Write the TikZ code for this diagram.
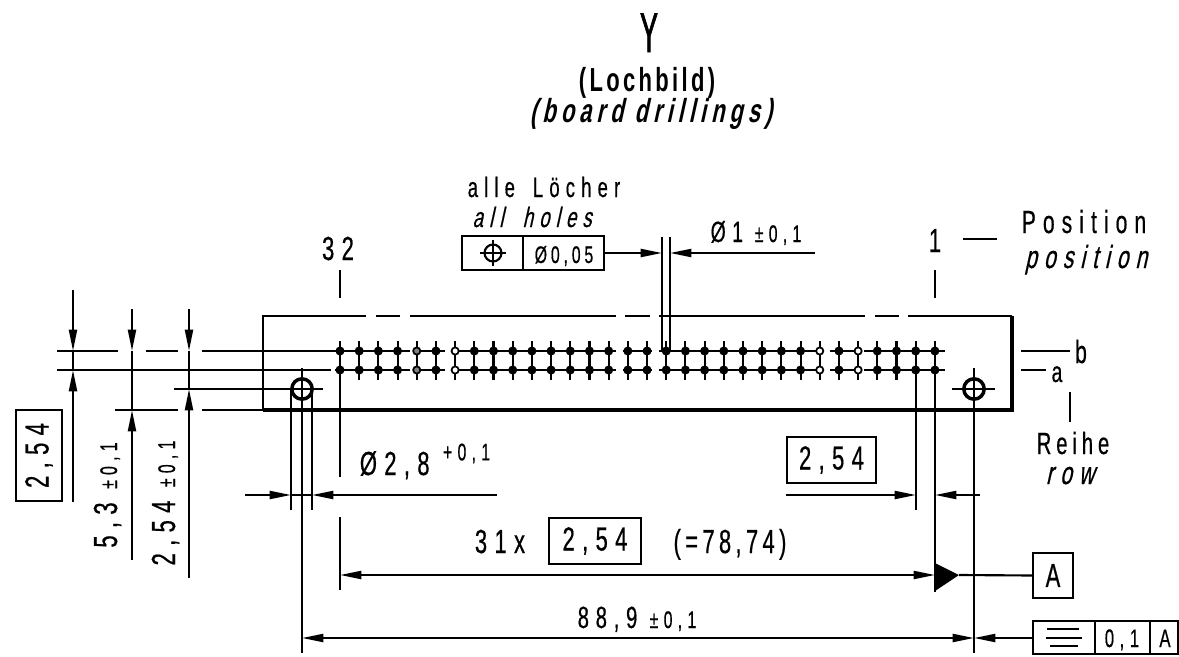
\documentclass[tikz,border=0pt]{standalone}
\usepackage{fontspec}
\usetikzlibrary{arrows.meta}
\newfontfamily\isofont[FakeStretch=0.66,LetterSpace=22,FakeBold=0.5]{Liberation Sans}
\newfontfamily\isoslant[FakeStretch=0.66,LetterSpace=22,FakeSlant=0.22,FakeBold=0.5]{Liberation Sans}
\newfontfamily\isonarrow[FakeStretch=0.48,FakeBold=1.2]{Liberation Sans}
\newfontfamily\isobold[FakeStretch=0.66,LetterSpace=10]{Liberation Sans Bold}
\newfontfamily\isoboldit[FakeStretch=0.66,LetterSpace=15,FakeSlant=0.22]{Liberation Sans Bold}
\newcommand{\tolsize}[1]{{\fontsize{18}{18}\selectfont #1}}
\tikzset{
  hair/.style={line width=1.6pt},
  heavy/.style={line width=2.4pt},
  dimline/.style={line width=1.6pt,-{Triangle[length=16pt,width=6pt]}},
  dimboth/.style={line width=1.6pt,{Triangle[length=16pt,width=6pt]}-{Triangle[length=16pt,width=6pt]}},
  lab/.style={inner sep=0pt,anchor=base,font=\isofont\fontsize{25}{25}\selectfont},
  labtwo/.style={inner sep=0pt,anchor=base,font=\isofont\fontsize{24}{24}\selectfont},
  labit/.style={inner sep=0pt,anchor=base,font=\isoslant\fontsize{24}{24}\selectfont},
  framebox/.style={draw,line width=1.6pt,inner sep=0pt,font=\isofont\fontsize{25}{25}\selectfont},
}
\begin{document}
\begin{tikzpicture}[x=0.75pt,y=0.75pt,yscale=-1]
\useasboundingbox (0,0) rectangle (1179,657);

%Shape: board outline
\draw [hair] (366,316) -- (263,316) -- (263,410);
\draw [hair] (376,316) -- (400,316) (410,316) -- (616,316) (625,316) -- (650,316) (659,316) -- (865,316) (875,316) -- (899,316);
\draw [hair] (908,316) -- (1012,316);
\draw [heavy] (1012,316) -- (1012,410) -- (263,410);

%Straight Lines: rows of the hole pattern
\draw [hair] (57,351) -- (118,351) (146,351) -- (178,351) (202,351) -- (410,351) (418,351) -- (445,351) (452,351) -- (616,351) (623,351) -- (652,351) (659,351) -- (823,351) (830,351) -- (861,351) (864,351) -- (945,351);
\draw [hair] (57,370) -- (331,370) (335,370) -- (410,370) (418,370) -- (445,370) (452,370) -- (616,370) (623,370) -- (652,370) (659,370) -- (823,370) (830,370) -- (861,370) (864,370) -- (945,370);

%Shape: holes
\foreach \i in {0,...,31} {
  \draw [hair] ({340+19.19*\i},341) -- ({340+19.19*\i},380);
  \ifnum\i=4 \def\holefill{gray}\else\ifnum\i=6 \def\holefill{white}\else\ifnum\i=25 \def\holefill{white}\else\ifnum\i=27 \def\holefill{white}\else\def\holefill{black}\fi\fi\fi\fi
  \foreach \r in {351,370} {
    \draw [line width=1.3pt,fill=\holefill] ({340+19.19*\i},\r) circle [radius=3.6];
  }
}

%Shape: mounting holes
\draw [line width=2.6pt] (302,389) circle [radius=10.2];
\draw [line width=2.6pt] (974,389) circle [radius=10.2];
\draw [hair] (174,389) -- (323,389);
\draw [hair] (952,389) -- (995,389);
\draw [hair] (302,368) -- (302,653);
\draw [hair] (974,368) -- (974,653);
\draw [hair] (291,389) -- (291,510);
\draw [hair] (312,389) -- (312,510);

%Straight Lines: left dimensions
\draw [hair] (115,410) -- (178,410) (202,410) -- (263,410);
\draw [dimline] (73,290) -- (73,351);
\draw [dimline] (73,502) -- (73,370);
\draw [hair] (73,351) -- (73,370);
\draw [dimline] (132,309) -- (132,351);
\draw [dimline] (132,560) -- (132,410);
\draw [hair] (132,351) -- (132,410);
\draw [dimline] (189,309) -- (189,351);
\draw [dimline] (189,578) -- (189,389);
\draw [hair] (189,351) -- (189,389);

%Straight Lines: ticks and extension lines
\draw [hair] (340,270) -- (340,298);
\draw [hair] (935,270) -- (935,298);
\draw [hair] (340,370) -- (340,477);
\draw [hair] (340,517) -- (340,590);
\draw [hair] (935,351) -- (935,592);
\draw [hair] (916,351) -- (916,510);
\draw [hair] (662,237) -- (662,351);
\draw [hair] (670,237) -- (670,351);
\draw [hair] (963,239) -- (997,239);
\draw [hair] (1021,351) -- (1070,351);
\draw [hair] (1021,370) -- (1046,370);
\draw [hair] (1070,392) -- (1070,422);

%Straight Lines: lower dimensions
\draw [dimline] (245,495) -- (291,495);
\draw [dimline] (497,495) -- (312,495);
\draw [hair] (291,495) -- (312,495);
\draw [dimline] (786,495) -- (916,495);
\draw [dimline] (980,495) -- (935,495);
\draw [dimboth] (340,575) -- (935,575);
\draw [dimline] (935,638) -- (302,638);
\draw [dimline] (900,638) -- (974,638);

%Shape: datum triangle
\fill (935,563) -- (959,575) -- (935,591) -- cycle;

% Frames
\node [framebox,minimum width=30pt,minimum height=34pt] (datumA) at (1053,575.5) {A};
\draw [hair] (462,236) rectangle (604,270);
\draw [hair] (523,236) -- (523,270);
\draw [hair] (493,253) circle [radius=8.5];
\draw [hair] (480,253) -- (506,253) (493,240) -- (493,266);
\draw [hair] (1033,621) rectangle (1178,654);
\draw [hair] (1095,621) -- (1095,654);
\draw [hair] (1150,621) -- (1150,654);
\draw [hair] (1047,629) -- (1079,629) (1046,638) -- (1082,638) (1050,646) -- (1078,646);
\draw [hair] (959,575) -- (datumA.west);
\draw [dimline] (604,253) -- (662,253);
\draw [dimline] (815,253) -- (670,253);
\draw [dimline] (1033,638) -- (974,638);

% Text Node
\node [inner sep=0pt,anchor=base,font=\isonarrow\fontsize{42}{42}\selectfont] (titleY) at (649,52) {Y};
\node [inner sep=0pt,anchor=base,font=\isobold\fontsize{25}{25}\selectfont] (titleDe) at (647,91) {(Lochbild)};
\node [inner sep=0pt,anchor=base,font=\isoboldit\fontsize{25}{25}\selectfont] (titleEn) at (651,122) {(board drillings)};
\node [labtwo,font=\isofont\fontsize{21}{21}\selectfont] (allDe) at (544,197) {alle\hspace{5pt} Löcher};
\node [labit,font=\isoslant\fontsize{21}{21}\selectfont] (allEn) at (532,227) {all\hspace{6pt} holes};
\node [lab,font=\isofont\fontsize{18}{18}\selectfont\addfontfeature{LetterSpace=16}] (tolVal) at (564,263) {Ø0,05};
\node [lab,font=\isofont\fontsize{22}{22}\selectfont] (dHole) at (756,242) {Ø1 \tolsize{±0,1}};
\node [lab] (pos32) at (338,260) {32};
\node [lab] (pos1) at (935,252) {1};
\node [labtwo] (posDe) at (1084,233) {Position};
\node [labit] (posEn) at (1086,268) {position};
\node [labtwo] (rowB) at (1081,363) {b};
\node [labtwo,font=\isofont\fontsize{22}{22}\selectfont] (rowA) at (1057,382) {a};
\node [labtwo,font=\isofont\fontsize{23}{23}\selectfont\addfontfeature{LetterSpace=16}] (rowDe) at (1073,454) {Reihe};
\node [labit] (rowEn) at (1070,484) {row};
\node [lab] (dMount) at (425,475) {Ø2,8 \raisebox{11pt}{\tolsize{+0,1}}};
\node [framebox,minimum width=66.5pt,minimum height=35pt] (boxRight) at (831.5,460) {2,54};
\node [lab] (pitch) at (500,553) {31x};
\node [framebox,minimum width=69pt,minimum height=34.5pt] (boxPitch) at (595,541) {2,54};
\node [lab,font=\isofont\fontsize{25}{25}\selectfont\addfontfeature{LetterSpace=13}] (total) at (730,553) {(=78,74)};
\node [lab,font=\isofont\fontsize{23}{23}\selectfont] (span) at (637,628) {88,9 \tolsize{±0,1}};
\node [framebox,minimum width=34.5pt,minimum height=68pt] (boxLeft) at (39,455.5) {\rotatebox{90}{2,54}};
\node [lab,rotate=90] (dimFive) at (117,495) {5,3 \tolsize{±0,1}};
\node [lab,rotate=90] (dimTwo) at (175,503) {2,54 \tolsize{±0,1}};
\node [lab,font=\isofont\fontsize{19}{19}\selectfont] (flatVal) at (1122,647) {0,1};
\node [lab,font=\isofont\fontsize{19}{19}\selectfont] (flatDat) at (1165,647) {A};

\end{tikzpicture}
\end{document}
